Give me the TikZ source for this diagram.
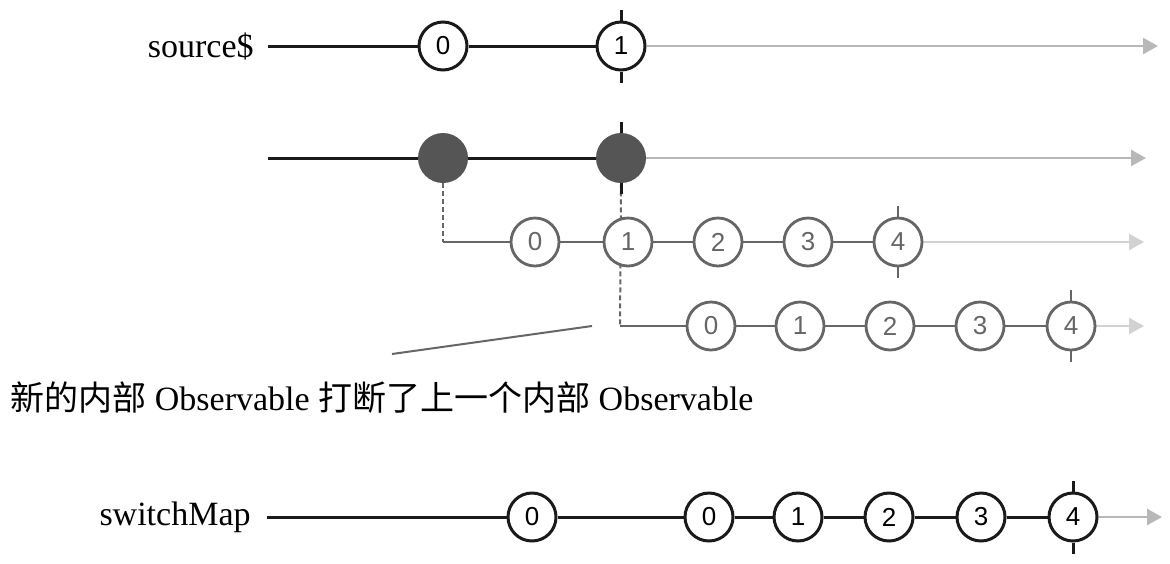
\documentclass[tikz,border=0pt]{standalone}
\usepackage{fontspec}
\setmainfont{Liberation Serif}
\newfontfamily\cjk{Noto Sans CJK SC}
\newfontfamily\digitfont{Liberation Sans}
\usetikzlibrary{arrows.meta, backgrounds}
\definecolor{ink}{HTML}{1A1A1A}
\definecolor{inner}{HTML}{666666}
\definecolor{fade}{HTML}{B8B8B8}
\definecolor{faint}{HTML}{D2D2D2}
\definecolor{dot}{HTML}{555555}
\tikzset{
  marble/.style={circle,draw=ink,line width=1.5pt,fill=white,minimum size=24pt,inner sep=0pt,
    font=\digitfont\fontsize{13}{13}\selectfont},
  innermarble/.style={marble,draw=inner,line width=1.4pt,text=inner},
  solidmarble/.style={circle,fill=dot,minimum size=25pt,inner sep=0pt},
  label/.style={anchor=east,inner sep=0pt,font=\fontsize{17}{20}\selectfont},
  tl/.style={draw=ink,line width=1.5pt},
  innertl/.style={draw=inner,line width=1.4pt},
  linkline/.style={draw=inner,line width=1pt,dash pattern=on 2.5pt off 1.5pt},
  future/.style={draw=fade,line width=1.4pt,-{Triangle[length=7.5pt,width=8pt]}},
  innerfuture/.style={future,draw=faint},
  endtick/.style={draw=ink,line width=1.5pt},
  innerendtick/.style={draw=inner,line width=1.4pt}
}

\begin{document}
\begin{tikzpicture}[x=0.5pt,y=-0.5pt]
\useasboundingbox (0,0) rectangle (1170,563);

% source$
\node[label] (srclabel) at (254,46) {source\$};
\coordinate (s1) at (268,46);
\node[marble] (r1a) at (443,46) {0};
\node[marble] (r1b) at (621,46) {1};
\coordinate (e1) at (1158,46);

% projected row
\coordinate (s2) at (268,158);
\node[solidmarble] (r2a) at (443,158) {};
\node[solidmarble] (r2b) at (621,158) {};
\coordinate (e2) at (1146,158);

% first inner observable
\coordinate (k1) at (443,242);
\node[innermarble] (r3a) at (535,242) {0};
\node[innermarble] (r3b) at (628,242) {1};
\node[innermarble] (r3c) at (718,242) {2};
\node[innermarble] (r3d) at (808,242) {3};
\node[innermarble] (r3e) at (898,242) {4};
\coordinate (e3) at (1144,242);

% second inner observable
\coordinate (k2) at (620,326);
\node[innermarble] (r4a) at (711,326) {0};
\node[innermarble] (r4b) at (800,326) {1};
\node[innermarble] (r4c) at (890,326) {2};
\node[innermarble] (r4d) at (980,326) {3};
\node[innermarble] (r4e) at (1071,326) {4};
\coordinate (e4) at (1144,326);

% note
\coordinate (p1) at (392,354);
\coordinate (p2) at (592,326);
\node[anchor=west,inner sep=0pt,font=\fontsize{17}{20}\selectfont] (note) at (10,398)
  {{\cjk 新的内部} Observable {\cjk 打断了上一个内部} Observable};

% switchMap
\node[label] (maplabel) at (251,517) {switchMap};
\coordinate (s5) at (267,517);
\node[marble] (r5a) at (532,517) {0};
\node[marble] (r5b) at (709,517) {0};
\node[marble] (r5c) at (798,517) {1};
\node[marble] (r5d) at (889,517) {2};
\node[marble] (r5e) at (981,517) {3};
\node[marble] (r5f) at (1073,517) {4};
\coordinate (e5) at (1162,517);

\begin{scope}[on background layer]
\draw[tl] (s1) -- (r1a) -- (r1b);
\draw[future] (r1b) -- (e1);
\draw[tl] (s2) -- (r2a) -- (r2b);
\draw[future] (r2b) -- (e2);
\draw[linkline] (r2a.south) -- (k1);
\draw[innertl] (k1) -- (r3a) -- (r3b) -- (r3c) -- (r3d) -- (r3e);
\draw[innerfuture] (r3e) -- (e3);
\draw[linkline] (r2b.south) -- (k2);
\draw[innertl] (k2) -- (r4a) -- (r4b) -- (r4c) -- (r4d) -- (r4e);
\draw[innerfuture] (r4e) -- (e4);
\draw[tl] (s5) -- (r5a) -- (r5b) -- (r5c) -- (r5d) -- (r5e) -- (r5f);
\draw[future] (r5f) -- (e5);
\end{scope}

% completion ticks
\draw[endtick] (r1b.north) -- ++(0,-11);
\draw[endtick] (r1b.south) -- ++(0,11);
\draw[endtick] (r2b.north) -- ++(0,-11);
\draw[endtick] (r2b.south) -- ++(0,11);
\draw[innerendtick] (r3e.north) -- ++(0,-11);
\draw[innerendtick] (r3e.south) -- ++(0,11);
\draw[innerendtick] (r4e.north) -- ++(0,-11);
\draw[innerendtick] (r4e.south) -- ++(0,11);
\draw[endtick] (r5f.north) -- ++(0,-11);
\draw[endtick] (r5f.south) -- ++(0,11);

\draw[draw=inner,line width=1pt] (p1) -- (p2);
\end{tikzpicture}
\end{document}
